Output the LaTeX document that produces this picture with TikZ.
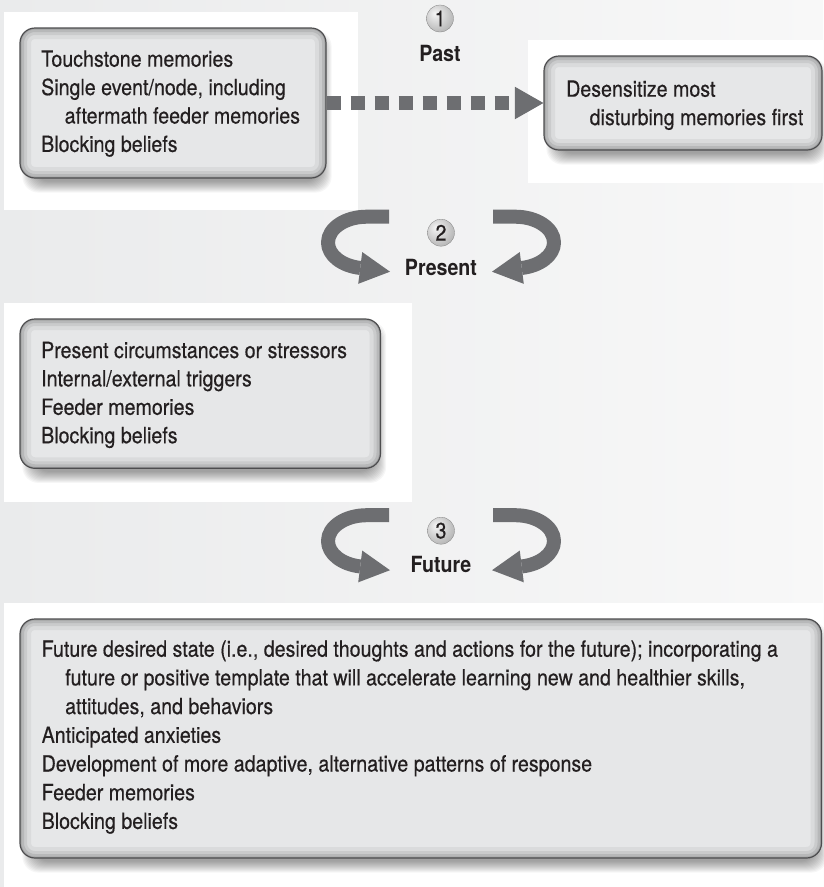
\documentclass[tikz,border=0pt]{standalone}
\usepackage{fontspec}
\setmainfont{TeX Gyre Heros}[FakeStretch=0.88, UprightFeatures={FakeBold=0.4}]
\usetikzlibrary{arrows.meta}

\definecolor{ink}{HTML}{231F20}
\definecolor{arrowgray}{HTML}{6D6E71}
\definecolor{boxfill}{HTML}{E6E7E8}
\definecolor{boxline}{HTML}{4D4D4F}
\definecolor{bgleft}{HTML}{EAEBEC}
\definecolor{bgright}{HTML}{F8F8F8}

% light sphere used behind the step numbers
\pgfdeclareradialshading{ballshade}{\pgfpoint{-10bp}{10bp}}{%
  color(0bp)=(white!96!black); color(14bp)=(white!85!black);
  color(38bp)=(white!66!black); color(64bp)=(white!55!black)}

\pgfdeclarelayer{backdrop}
\pgfdeclarelayer{shade}
\pgfsetlayers{backdrop,shade,main}

\newcommand\diagfont{\fontsize{22.3pt}{28.4pt}\selectfont}
\newcommand\wideleading{\fontsize{22.3pt}{28.7pt}\selectfont}
\newcommand\indentline{\hspace*{23.5pt}}

% soft shadow under a box: stacked translucent rounded rectangles
\newcommand\castshadow[1]{%
  \foreach \k in {0,...,11}{%
    \fill[black, opacity=0.035, rounded corners=16pt]
      ([shift={(14-\k,14-\k)}]#1.north west) rectangle ([shift={(-6+\k,3+\k)}]#1.south east);
  }}

\tikzset{
  infobox/.style={rectangle, rounded corners=15pt, draw=boxline, line width=1.2pt,
    fill=boxfill, inner sep=0pt,
    path picture={
      \foreach \w/\o in {22/0.05,14/0.07,8/0.09,3/0.11}{
        \draw[black, opacity=\o, line width=\w pt, rounded corners=15pt]
          (path picture bounding box.south west) rectangle (path picture bounding box.north east);
      }}},
  txt/.style={inner sep=0pt, anchor=base west, text=ink, font=\diagfont},
  stagelabel/.style={inner sep=0pt, anchor=base, text=ink, font=\diagfont\bfseries},
  numdisc/.style={circle, minimum size=27pt, inner sep=0pt, shading=ballshade, shade,
    draw=white!50!black, line width=0.3pt, text=ink, font=\diagfont},
  curvearrow/.style={draw=arrowgray, line width=14pt, line join=round,
    -{Triangle[length=30pt, width=32pt, line width=0pt]}},
  dasharrow/.style={draw=arrowgray, line width=13.5pt, dash pattern=on 14pt off 10pt,
    -{Triangle[length=28.5pt, width=32.5pt, line width=0pt]}},
}

\begin{document}
\begin{tikzpicture}[x=1pt, y=-1pt]
  \useasboundingbox (0,0) rectangle (823,887);

  % page background and white panels
  \begin{pgfonlayer}{backdrop}
    \shade[left color=bgleft, right color=bgright] (0,0) rectangle (823,887);
    \fill[white] (4,12) rectangle (358,210);
    \fill[white] (528,40) rectangle (823,183);
    \fill[white] (4,303) rectangle (412,502);
    \fill[white] (4,603) rectangle (823,887);
  \end{pgfonlayer}

  % boxes
  \node[infobox, minimum width=306pt, minimum height=150pt] (b1) at (173,103) {};
  \node[infobox, minimum width=278pt, minimum height=94pt] (b2) at (683,103) {};
  \node[infobox, minimum width=360.5pt, minimum height=149.3pt] (b3) at (200.25,393.65) {};
  \node[infobox, minimum width=801.5pt, minimum height=239pt] (b4) at (420.75,738.5) {};

  \begin{pgfonlayer}{shade}
    \castshadow{b1}
    \castshadow{b2}
    \castshadow{b3}
    \castshadow{b4}
  \end{pgfonlayer}

  % box texts
  \node[txt] (t1) at (41,66.7) {\begin{tabular}[t]{@{}l@{}}
    Touchstone memories\\
    Single event/node, including\\
    \indentline aftermath feeder memories\\
    Blocking beliefs\end{tabular}};
  \node[txt] (t2) at (566,96.7) {\begin{tabular}[t]{@{}l@{}}
    Desensitize most\\
    \indentline disturbing memories first\end{tabular}};
  \node[txt] (t3) at (41,358) {\begin{tabular}[t]{@{}l@{}}
    Present circumstances or stressors\\
    Internal/external triggers\\
    Feeder memories\\
    Blocking beliefs\end{tabular}};
  \node[txt, font=\wideleading] (t4) at (41.5,656.7) {\begin{tabular}[t]{@{}l@{}}
    Future desired state (i.e., desired thoughts and actions for the future); incorporating a\\
    \indentline future or positive template that will accelerate learning new and healthier skills,\\
    \indentline attitudes, and behaviors\\
    Anticipated anxieties\\
    Development of more adaptive, alternative patterns of response\\
    Feeder memories\\
    Blocking beliefs\end{tabular}};

  % stage markers
  \node[numdisc] (n1) at (440,18.5) {1};
  \node[stagelabel] (past) at (440,61.7) {Past};
  \node[numdisc] (n2) at (441,232.7) {2};
  \node[stagelabel] (present) at (441,275) {Present};
  \node[numdisc] (n3) at (441,530.7) {3};
  \node[stagelabel] (future) at (441,572) {Future};

  % past: move on to the next box
  \draw[dasharrow] (b1.east) -- (b2.west);

  % present: circling arrows
  \draw[curvearrow] (389,216.7) -- (366.7,216.7)
    arc[start angle=270, end angle=100, x radius=38.7, y radius=25.8] -- (390,271.7);
  \draw[curvearrow] (493,216.7) -- (515.3,216.7)
    arc[start angle=-90, end angle=80, x radius=38.7, y radius=25.8] -- (492,271.7);

  % future: circling arrows
  \draw[curvearrow] (389,515.2) -- (366.7,515.2)
    arc[start angle=270, end angle=100, x radius=38.7, y radius=25.8] -- (390,570.2);
  \draw[curvearrow] (493,515.2) -- (515.3,515.2)
    arc[start angle=-90, end angle=80, x radius=38.7, y radius=25.8] -- (492,570.2);
\end{tikzpicture}
\end{document}
